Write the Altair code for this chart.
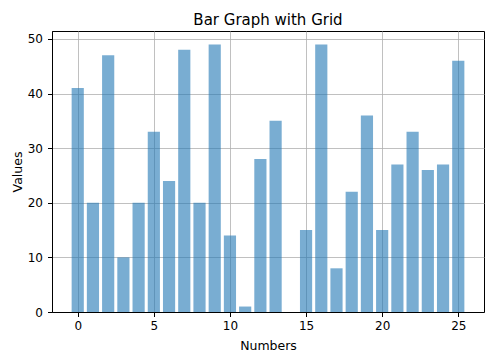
import altair as alt
import pandas as pd

numbers = list(range(26))
values = [41, 20, 47, 10, 20, 33, 24, 48, 20, 49, 14, 1, 28, 35, 0,
          15, 49, 8, 22, 36, 15, 27, 33, 26, 27, 46]
x_ticks = [0, 5, 10, 15, 20, 25]
y_ticks = [0, 10, 20, 30, 40, 50]

df = pd.DataFrame({"Numbers": numbers, "Values": values})

axis_common = dict(
    domainColor="black",
    tickColor="black",
    tickSize=4.5,
    labelFontSize=12,
    labelColor="black",
    titleFontSize=12.5,
    titleFontWeight="normal",
    titleColor="black",
    gridColor="#b0b0b0",
    gridWidth=0.8,
    gridOpacity=1,
)

chart = (
    alt.Chart(df)
    .transform_calculate(x0="datum.Numbers - 0.4", x1="datum.Numbers + 0.4")
    .mark_bar(color="#1f77b4", opacity=0.6)
    .encode(
        x=alt.X(
            "x0:Q",
            scale=alt.Scale(domain=[-1.69, 26.69], nice=False, zero=False, padding=0),
            axis=alt.Axis(
                values=x_ticks,
                title="Numbers",
                labelPadding=4,
                titleY=37,
                titleBaseline="alphabetic",
                labelFlush=False,
                **axis_common,
            ),
        ),
        x2="x1:Q",
        y=alt.Y(
            "Values:Q",
            scale=alt.Scale(domain=[0, 51.45], nice=False, padding=0),
            axis=alt.Axis(
                values=y_ticks,
                title="Values",
                labelPadding=5,
                titleX=-31,
                titleBaseline="alphabetic",
                titleAngle=-90,
                titleAlign="center",
                labelFlush=False,
                **axis_common,
            ),
        ),
        y2=alt.datum(0),
    )
    .properties(
        width=432,
        height=281,
        title=alt.TitleParams(
            "Bar Graph with Grid",
            fontSize=15,
            fontWeight="normal",
            color="black",
            offset=7,
            dy=16,
            baseline="alphabetic",
            anchor="middle",
        ),
        autosize=alt.AutoSizeParams(type="none"),
        padding={"left": 44, "top": 23, "right": 8, "bottom": 41},
    )
    .configure(font="DejaVu Sans")
    .configure_view(stroke="black", strokeWidth=1)
)

chart.save("out.html", embed_options={"renderer": "svg", "actions": False})
